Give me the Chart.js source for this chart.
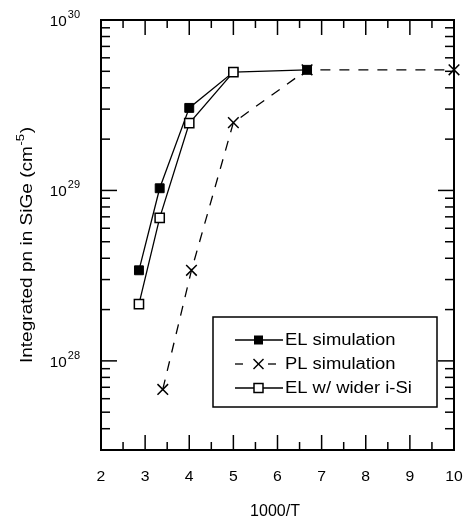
<!DOCTYPE html>
<html>
<head>
<meta charset="utf-8">
<script src="https://cdn.jsdelivr.net/npm/chart.js@4/dist/chart.umd.min.js"></script>
<style>
html,body{margin:0;padding:0;background:#fff;}
#wrap{width:463px;height:524px;}
</style>
</head>
<body>
<div id="wrap"><canvas id="c" width="463" height="524"></canvas></div>
<script>
// ---- data ----
const xEL   = [2.86, 3.33, 4.0, 5.0, 6.67];
const yEL   = [3.4e28, 1.03e29, 3.05e29, 4.95e29, 5.1e29];
const xPL   = [3.4, 4.05, 5.0, 6.67, 10.0];
const yPL   = [6.8e27, 3.4e28, 2.5e29, 5.1e29, 5.1e29];
const xWide = [2.86, 3.33, 4.0, 5.0];
const yWide = [2.15e28, 6.9e28, 2.48e29, 4.95e29];
const seriesNames = ['EL simulation', 'PL simulation', 'EL w/ wider i-Si'];
const xTickValues = [2, 3, 4, 5, 6, 7, 8, 9, 10];
const yDecades = [28, 29, 30];
const xTitle = '1000/T';
const yTitleMain = 'Integrated pn in SiGe (cm';
const yTitleSup = '-5';
const yTitleEnd = ')';

const pts = (xs, ys) => xs.map((v, i) => ({x: v, y: ys[i]}));
const FONT = 'Arial, "Liberation Sans", Helvetica, sans-serif';

function stretchText(ctx, s, x, y, size, align, sx) {
  ctx.save();
  ctx.font = size + 'px ' + FONT;
  ctx.translate(x, y);
  ctx.scale(sx, 1);
  ctx.textAlign = align;
  ctx.fillText(s, 0, 0);
  ctx.restore();
}
function seg(ctx, x1, y1, x2, y2) {
  ctx.beginPath(); ctx.moveTo(x1, y1); ctx.lineTo(x2, y2); ctx.stroke();
}

const framePlugin = {
  id: 'frame',
  beforeDatasetsDraw(chart) {
    const {ctx, chartArea: a, scales: {x, y}} = chart;
    ctx.save();
    ctx.strokeStyle = '#000';
    ctx.fillStyle = '#000';
    ctx.lineWidth = 2;
    ctx.strokeRect(a.left, a.top, a.right - a.left, a.bottom - a.top);
    ctx.lineWidth = 1.5;
    // x ticks (major integers, minor halves), bottom and top, inward
    for (let v = x.min; v <= x.max + 1e-9; v += 0.5) {
      const px = x.getPixelForValue(v);
      const major = Math.abs(v - Math.round(v)) < 1e-9;
      const L = major ? 15 : 8;
      seg(ctx, px, a.bottom, px, a.bottom - L);
      seg(ctx, px, a.top, px, a.top + L);
    }
    // y ticks (log), left and right, inward
    for (let d = 27; d <= 30; d++) {
      for (let k = 1; k <= 9; k++) {
        const v = k * Math.pow(10, d);
        if (v < y.min * 0.999 || v > y.max * 1.001) continue;
        const py = y.getPixelForValue(v);
        const L = k === 1 ? 16 : 9;
        seg(ctx, a.left, py, a.left + L, py);
        seg(ctx, a.right, py, a.right - L, py);
      }
    }
    // x tick labels
    ctx.textBaseline = 'middle';
    xTickValues.forEach(v => {
      stretchText(ctx, String(v), x.getPixelForValue(v), 477, 15, 'center', 1.05);
    });
    // y tick labels 10^n
    ctx.textBaseline = 'alphabetic';
    yDecades.forEach(n => {
      const py = y.getPixelForValue(Math.pow(10, n));
      ctx.font = '11px ' + FONT;
      const ew = ctx.measureText(String(n)).width;
      const right = a.left - 21;
      stretchText(ctx, String(n), right - ew, py - 2, 11, 'left', 1);
      stretchText(ctx, '10', right - ew - 1, py + 6, 15, 'right', 1.02);
    });
    // x title
    stretchText(ctx, xTitle, 275, 516, 16, 'center', 1.0);
    // y title rotated
    ctx.save();
    ctx.translate(27, 245);
    ctx.rotate(-Math.PI / 2);
    const sx = 1.19;
    ctx.scale(sx, 1);
    ctx.font = '16px ' + FONT;
    const w1 = ctx.measureText(yTitleMain).width;
    const w3 = ctx.measureText(yTitleEnd).width;
    ctx.font = '11px ' + FONT;
    const w2 = ctx.measureText(yTitleSup).width;
    const total = w1 + w2 + w3 + 1;
    let cx = -total / 2;
    ctx.textAlign = 'left';
    ctx.font = '16px ' + FONT;
    ctx.fillText(yTitleMain, cx, 5); cx += w1;
    ctx.font = '11px ' + FONT;
    ctx.fillText(yTitleSup, cx + 0.5, -3); cx += w2 + 1;
    ctx.font = '16px ' + FONT;
    ctx.fillText(yTitleEnd, cx, 5);
    ctx.restore();
    ctx.restore();
  },
  afterDraw(chart) {
    const ctx = chart.ctx;
    ctx.save();
    const bx = 213, by = 317, bw = 224, bh = 90;
    ctx.fillStyle = '#fff';
    ctx.fillRect(bx, by, bw, bh);
    ctx.strokeStyle = '#000';
    ctx.lineWidth = 1.5;
    ctx.strokeRect(bx, by, bw, bh);
    const rows = [340, 364, 388];
    const mx = 258.5;
    ctx.lineWidth = 1.3;
    // row 1: filled square
    seg(ctx, 235, rows[0], 283, rows[0]);
    ctx.fillStyle = '#000';
    ctx.fillRect(mx - 4.5, rows[0] - 4.5, 9, 9);
    // row 2: dashes + X
    seg(ctx, 235, rows[1], 243, rows[1]);
    seg(ctx, 268, rows[1], 276, rows[1]);
    ctx.lineWidth = 1.5;
    seg(ctx, mx - 5, rows[1] - 5, mx + 5, rows[1] + 5);
    seg(ctx, mx - 5, rows[1] + 5, mx + 5, rows[1] - 5);
    // row 3: open square
    ctx.lineWidth = 1.3;
    seg(ctx, 235, rows[2], 283, rows[2]);
    ctx.fillStyle = '#fff';
    ctx.fillRect(mx - 4.5, rows[2] - 4.5, 9, 9);
    ctx.lineWidth = 1.5;
    ctx.strokeRect(mx - 4.5, rows[2] - 4.5, 9, 9);
    // texts
    ctx.fillStyle = '#000';
    ctx.textBaseline = 'middle';
    seriesNames.forEach((s, i) => {
      stretchText(ctx, s, 285, rows[i] + 1, 16, 'left', 1.15);
    });
    ctx.restore();
  }
};

new Chart(document.getElementById('c'), {
  type: 'line',
  data: {
    datasets: [
      {
        label: seriesNames[2],
        data: pts(xWide, yWide),
        order: 0,
        borderColor: '#000', borderWidth: 1.3,
        pointStyle: 'rect', pointRadius: 6.5,
        pointBackgroundColor: '#fff', pointBorderColor: '#000', pointBorderWidth: 1.5,
        tension: 0, clip: false
      },
      {
        label: seriesNames[0],
        data: pts(xEL, yEL),
        order: 1,
        borderColor: '#000', borderWidth: 1.3,
        pointStyle: 'rect', pointRadius: 6.3,
        pointBackgroundColor: '#000', pointBorderColor: '#000', pointBorderWidth: 1,
        tension: 0, clip: false
      },
      {
        label: seriesNames[1],
        data: pts(xPL, yPL),
        order: 2,
        borderColor: '#000', borderWidth: 1.3, borderDash: [10, 9],
        pointStyle: 'crossRot', pointRadius: 7.5,
        pointBorderColor: '#000', pointBorderWidth: 1.5,
        tension: 0, clip: false
      }
    ]
  },
  options: {
    responsive: false,
    animation: false,
    events: [],
    layout: { padding: { left: 101, top: 20, right: 9, bottom: 74 }, autoPadding: false },
    plugins: { legend: { display: false }, tooltip: { enabled: false } },
    scales: {
      x: { type: 'linear', min: 2, max: 10, display: false },
      y: { type: 'logarithmic', min: 3e27, max: 1e30, display: false }
    }
  },
  plugins: [framePlugin]
});
</script>
</body>
</html>
